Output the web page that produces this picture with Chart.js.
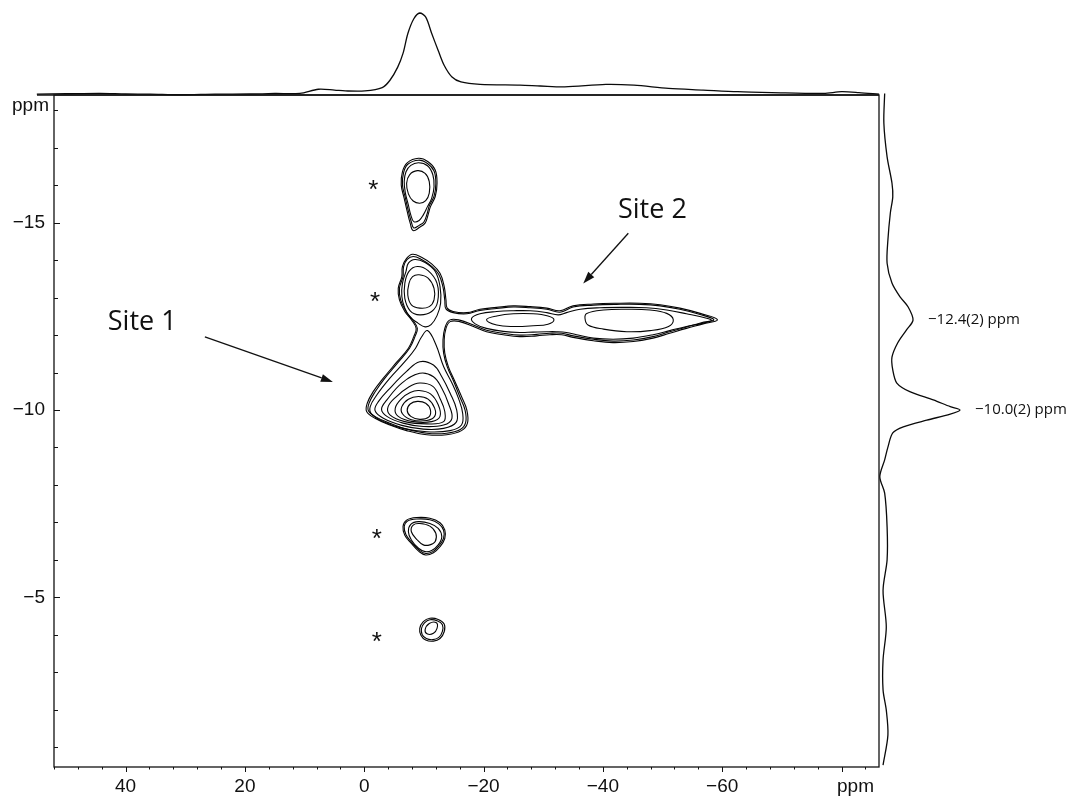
<!DOCTYPE html>
<html>
<head>
<meta charset="utf-8">
<script src="https://cdn.jsdelivr.net/npm/chart.js@4.4.1/dist/chart.umd.min.js"></script>
<style>
  html, body { margin: 0; padding: 0; background: #fff; }
  #wrap { position: relative; width: 1073px; height: 797px; }
  #wrap canvas { position: absolute; left: 0; top: 0; }
</style>
</head>
<body>
<div id="wrap">
  <canvas id="topProj" width="1073" height="797"></canvas>
  <canvas id="rightProj" width="1073" height="797"></canvas>
  <canvas id="main" width="1073" height="797"></canvas>
</div>
<script>
// ---------- axis ranges (ppm) ----------
const f2Left = 52.0, f2Right = -86.28;     // direct dimension, plotted high -> low
const f1Top = -18.41, f1Bottom = -0.47;    // indirect dimension, plotted low -> high
const topProjLeft = 54.87;                 // F2 projection starts a little left of the frame

// ---------- F2 projection (top trace) ----------
const topProjPpm = [54.9, 50, 44.3, 40, 35.9, 30.9, 25, 19.2, 15, 10.8, 7.7, 5, 3.2, -0.1, -3.0, -4.3,
  -5.6, -6.5, -7.3, -8.3, -9.3, -10.3, -11.3, -12.4, -13.4, -14.7, -16.2, -19.4, -26.1, -29.5, -33.6,
  -40.5, -45.2, -51.0, -56.8, -62.6, -68.3, -77.0, -80.0, -82.9, -86.3];
const topProjInt = [1, 1.5, 2, 1.2, 1, 0.3, 1, 1.2, 1.8, 2, 7, 6, 5, 5, 9, 18,
  34, 51, 75, 93, 100, 95, 75, 54, 36, 22, 16, 13, 12, 11, 10,
  13, 12, 8, 6, 4, 3, 2, 4, 3, 1];

// ---------- F1 projection (right trace) ----------
const rightProjPpm = [-18.45, -17.66, -16.76, -16.06, -15.69, -15.26, -14.54, -13.92, -13.39, -13.02,
  -12.75, -12.4, -12.14, -11.79, -11.41, -11.07, -10.72, -10.49, -10.27, -10.09, -10.0, -9.89, -9.73,
  -9.55, -9.39, -9.01, -8.67, -8.22, -7.78, -6.88, -6.00, -5.19, -4.21, -3.33, -2.53, -1.99, -1.32, -0.52];
const rightProjInt = [7, 6, 10, 16, 17, 14, 11, 10, 16, 26,
  36, 42, 34, 23, 16, 17, 22, 38, 67, 88, 100, 88, 59,
  30, 17, 11, 7, 1, 7, 10, 10, 5, 9, 5, 5, 9, 11, 5];
const projPeakPpm = [-12.4, -10.0];

// ---------- contour lines, each a closed list of [F2, F1] in ppm ----------
// the two lowest levels wrap Site 1, the sideband above it and the Site 2 ridge together
const envelopeContours = [
  [[-8.1,-14.16],[-9.6,-14.08],[-11.3,-13.90],[-12.7,-13.65],[-13.4,-13.30],[-13.7,-12.94],[-13.9,-12.72],
   [-14.9,-12.63],[-17.2,-12.60],[-19.4,-12.69],[-22.2,-12.74],[-25.0,-12.78],[-27.8,-12.76],[-30.6,-12.72],
   [-32.8,-12.65],[-35.0,-12.78],[-38.4,-12.83],[-42.3,-12.85],[-46.2,-12.85],[-49.6,-12.81],[-52.9,-12.72],
   [-56.3,-12.58],[-59.2,-12.41],[-56.8,-12.30],[-54.0,-12.18],[-51.2,-12.05],[-48.4,-11.92],[-45.1,-11.83],
   [-41.7,-11.80],[-38.4,-11.85],[-35.0,-11.94],[-33.1,-12.01],[-31.1,-12.01],[-28.9,-11.98],[-26.1,-11.96],
   [-23.3,-12.01],[-20.5,-12.09],[-18.3,-12.23],[-16.0,-12.36],[-14.4,-12.36],[-13.7,-12.18],[-13.4,-11.87],
   [-13.5,-11.52],[-14.1,-11.16],[-15.2,-10.76],[-16.3,-10.36],[-17.2,-10.00],[-17.3,-9.65],[-16.3,-9.45],
   [-13.8,-9.34],[-10.5,-9.34],[-7.1,-9.45],[-4.3,-9.60],[-1.8,-9.78],[-0.4,-9.96],[-0.5,-10.18],[-1.5,-10.49],
   [-3.2,-10.85],[-5.4,-11.27],[-7.4,-11.65],[-8.3,-11.96],[-8.7,-12.18],[-7.9,-12.41],[-6.8,-12.63],
   [-5.9,-12.94],[-5.7,-13.25],[-6.3,-13.56],[-6.4,-13.83],[-7.1,-14.05]],
  [[-8.2,-14.10],[-9.6,-14.02],[-11.2,-13.85],[-12.5,-13.62],[-13.2,-13.28],[-13.5,-12.93],[-13.7,-12.70],
   [-14.9,-12.60],[-17.2,-12.57],[-19.4,-12.66],[-22.2,-12.71],[-25.0,-12.75],[-27.8,-12.73],[-30.6,-12.69],
   [-32.8,-12.61],[-35.0,-12.75],[-38.4,-12.80],[-42.3,-12.82],[-46.2,-12.82],[-49.6,-12.78],[-52.9,-12.69],
   [-56.3,-12.55],[-58.6,-12.41],[-56.5,-12.33],[-53.9,-12.21],[-51.2,-12.09],[-48.4,-11.96],[-45.1,-11.87],
   [-41.7,-11.84],[-38.4,-11.89],[-35.0,-11.98],[-33.1,-12.05],[-31.1,-12.05],[-28.9,-12.02],[-26.1,-12.00],
   [-23.3,-12.05],[-20.5,-12.13],[-18.3,-12.27],[-16.0,-12.40],[-14.3,-12.40],[-13.5,-12.18],[-13.2,-11.87],
   [-13.3,-11.52],[-13.9,-11.16],[-15.0,-10.76],[-16.0,-10.36],[-16.9,-10.00],[-17.0,-9.67],[-16.1,-9.48],
   [-13.8,-9.38],[-10.5,-9.38],[-7.1,-9.49],[-4.4,-9.64],[-2.0,-9.81],[-0.7,-9.98],[-0.8,-10.18],[-1.8,-10.48],
   [-3.4,-10.84],[-5.6,-11.26],[-7.6,-11.65],[-8.5,-11.96],[-8.9,-12.18],[-8.1,-12.41],[-7.0,-12.63],
   [-6.1,-12.94],[-5.9,-13.25],[-6.5,-13.56],[-6.6,-13.83],[-7.2,-14.02]]
];

// Site 1 (centre near F1 = -10.0 ppm)
const site1Contours = [
  [[-10.6,-12.12],[-12.0,-11.75],[-13.3,-11.16],[-14.7,-10.72],[-15.8,-10.31],[-16.5,-9.91],[-16.3,-9.60],
   [-14.4,-9.45],[-10.5,-9.42],[-6.5,-9.51],[-3.2,-9.69],[-1.2,-9.90],[-1.0,-10.09],[-2.1,-10.40],[-4.3,-10.85],
   [-6.8,-11.29],[-8.6,-11.65],[-9.6,-11.95]],
  [[-9.3,-11.29],[-11.6,-11.20],[-13.0,-10.89],[-14.4,-10.45],[-15.5,-10.00],[-15.4,-9.67],[-13.3,-9.51],
   [-9.9,-9.49],[-6.3,-9.59],[-3.2,-9.78],[-1.8,-9.99],[-2.4,-10.23],[-4.3,-10.58],[-7.1,-11.03]],
  [[-9.3,-10.98],[-11.6,-10.89],[-13.0,-10.58],[-14.1,-10.18],[-14.7,-9.78],[-13.3,-9.60],[-9.9,-9.56],
   [-6.5,-9.65],[-3.8,-9.83],[-2.9,-10.02],[-3.8,-10.27],[-6.3,-10.72]],
  [[-9.3,-10.72],[-11.5,-10.63],[-12.7,-10.31],[-13.5,-9.96],[-13.3,-9.69],[-10.5,-9.63],[-6.8,-9.69],
   [-4.3,-9.87],[-4.0,-10.09],[-5.4,-10.36],[-7.4,-10.61]],
  [[-9.2,-10.52],[-11.1,-10.43],[-12.4,-10.14],[-12.7,-9.83],[-11.3,-9.69],[-8.2,-9.69],[-5.7,-9.83],
   [-5.2,-10.05],[-6.3,-10.31],[-7.7,-10.47]],
  [[-9.1,-10.36],[-10.7,-10.29],[-11.8,-10.05],[-11.8,-9.83],[-10.5,-9.72],[-7.9,-9.74],[-6.4,-9.90],
   [-6.3,-10.09],[-7.4,-10.29]],
  [[-8.9,-10.23],[-10.3,-10.18],[-11.1,-10.00],[-10.8,-9.81],[-9.3,-9.75],[-7.8,-9.83],[-7.2,-9.99],[-7.7,-10.16]]
];

// Site 2 ridge (F1 = -12.4 ppm)
const site2Contours = [
  [[-18.0,-12.45],[-19.4,-12.57],[-22.2,-12.63],[-25.0,-12.65],[-27.8,-12.65],[-30.6,-12.60],[-32.5,-12.54],
   [-33.9,-12.60],[-36.2,-12.69],[-39.5,-12.73],[-43.4,-12.74],[-47.3,-12.73],[-50.7,-12.67],[-54.0,-12.57],
   [-57.4,-12.45],[-58.2,-12.39],[-56.8,-12.32],[-54.0,-12.23],[-51.2,-12.12],[-48.4,-12.01],[-45.1,-11.92],
   [-41.7,-11.89],[-38.4,-11.92],[-35.6,-12.01],[-33.9,-12.07],[-32.2,-12.09],[-30.6,-12.09],[-28.3,-12.08],
   [-26.1,-12.07],[-23.3,-12.10],[-20.5,-12.18],[-18.6,-12.30]],
  [[-20.5,-12.41],[-22.2,-12.51],[-25.0,-12.57],[-28.3,-12.57],[-30.8,-12.51],[-31.8,-12.41],[-30.8,-12.29],
   [-28.3,-12.25],[-25.0,-12.23],[-22.2,-12.27]],
  [[-37.3,-12.58],[-40.1,-12.67],[-44.0,-12.69],[-47.9,-12.67],[-50.7,-12.58],[-51.8,-12.41],[-51.0,-12.23],
   [-47.9,-12.12],[-44.0,-12.09],[-40.1,-12.16],[-37.5,-12.27],[-37.0,-12.45]]
];

// spinning sidebands
const sidebandContours = [
  // F1 ~ -16.0
  [[-9.1,-16.72],[-10.7,-16.63],[-11.9,-16.41],[-12.2,-16.05],[-11.9,-15.70],[-11.1,-15.43],[-10.7,-15.21],
   [-10.2,-14.99],[-9.3,-14.88],[-8.2,-14.79],[-7.7,-14.99],[-7.2,-15.30],[-6.7,-15.65],[-6.2,-16.01],
   [-6.4,-16.36],[-7.2,-16.60]],
  [[-9.1,-16.67],[-10.6,-16.58],[-11.7,-16.38],[-12.0,-16.04],[-11.7,-15.71],[-10.9,-15.45],[-10.5,-15.22],
   [-10.0,-15.02],[-9.2,-14.93],[-8.3,-14.86],[-7.9,-15.02],[-7.4,-15.31],[-6.9,-15.66],[-6.4,-16.01],
   [-6.6,-16.34],[-7.3,-16.56]],
  [[-9.1,-16.60],[-10.6,-16.52],[-11.5,-16.28],[-11.7,-15.96],[-11.3,-15.65],[-10.6,-15.43],[-9.9,-15.21],
   [-9.2,-15.06],[-8.3,-15.03],[-7.8,-15.21],[-7.4,-15.47],[-6.9,-15.79],[-6.7,-16.10],[-7.0,-16.36],[-7.8,-16.53]],
  [[-8.9,-16.39],[-10.2,-16.32],[-10.9,-16.10],[-10.9,-15.79],[-10.3,-15.59],[-9.3,-15.52],[-8.2,-15.58],
   [-7.4,-15.77],[-7.1,-16.05],[-7.6,-16.28]],
  // F1 ~ -13.1 (inside the envelope)
  [[-8.5,-14.02],[-10.2,-13.94],[-11.9,-13.70],[-12.7,-13.30],[-12.8,-12.85],[-12.2,-12.52],[-11.2,-12.28],
   [-10.2,-12.22],[-9.0,-12.32],[-7.7,-12.48],[-6.8,-12.72],[-6.3,-13.03],[-6.4,-13.38],[-7.0,-13.70],[-7.4,-13.92]],
  [[-8.9,-13.83],[-10.7,-13.72],[-12.2,-13.38],[-12.3,-12.89],[-11.3,-12.63],[-9.3,-12.54],[-7.7,-12.65],
   [-6.8,-12.98],[-6.8,-13.38],[-7.5,-13.70]],
  [[-9.2,-13.61],[-10.7,-13.52],[-11.7,-13.25],[-11.7,-12.94],[-10.9,-12.76],[-9.3,-12.72],[-7.9,-12.81],
   [-7.3,-13.07],[-7.5,-13.38],[-8.1,-13.56]],
  // F1 ~ -6.7
  [[-8.8,-7.13],[-11.0,-7.11],[-12.7,-6.99],[-13.5,-6.80],[-13.5,-6.57],[-12.7,-6.35],[-11.6,-6.19],
   [-10.3,-6.13],[-9.2,-6.22],[-7.9,-6.44],[-6.8,-6.66],[-6.5,-6.89],[-7.1,-7.06]],
  [[-8.8,-7.09],[-11.0,-7.07],[-12.5,-6.96],[-13.3,-6.79],[-13.3,-6.58],[-12.5,-6.37],[-11.5,-6.22],
   [-10.3,-6.17],[-9.3,-6.25],[-8.0,-6.46],[-7.0,-6.67],[-6.7,-6.89],[-7.2,-7.03]],
  [[-9.1,-7.02],[-11.0,-6.97],[-12.4,-6.84],[-13.0,-6.62],[-12.4,-6.40],[-11.3,-6.25],[-10.2,-6.22],
   [-9.1,-6.31],[-7.9,-6.53],[-7.4,-6.75],[-7.8,-6.95]],
  [[-9.3,-6.97],[-11.0,-6.90],[-12.0,-6.71],[-11.9,-6.49],[-11.0,-6.40],[-9.9,-6.40],[-8.9,-6.53],
   [-7.9,-6.75],[-8.2,-6.93]],
  // F1 ~ -4.1
  [[-11.0,-4.44],[-12.4,-4.41],[-13.4,-4.29],[-13.4,-4.08],[-12.7,-3.90],[-11.6,-3.83],[-10.3,-3.86],
   [-9.5,-3.99],[-9.3,-4.17],[-9.9,-4.35]],
  [[-11.0,-4.40],[-12.3,-4.37],[-13.1,-4.27],[-13.1,-4.09],[-12.5,-3.93],[-11.5,-3.87],[-10.4,-3.90],
   [-9.7,-4.01],[-9.6,-4.17],[-10.1,-4.32]],
  [[-10.9,-4.30],[-12.1,-4.32],[-12.2,-4.17],[-11.6,-4.04],[-10.6,-4.02],[-10.2,-4.13]]
];

// ---------- annotations ----------
const sidebandMarkF2 = [-1.5, -1.8, -2.1, -2.1];
const sidebandMarkF1 = [-16.05, -13.07, -6.75, -3.99];
const siteNames = ['Site 1', 'Site 2'];
const siteLabelF2 = [42.98, -42.53];
const siteLabelF1 = [-12.14, -15.12];
const arrowTail = [[26.71, -11.95], [-44.26, -14.72]];
const arrowHead = [[5.25, -10.75], [-36.71, -13.38]];

// ---------- helpers ----------
const MINUS = '\u2212';
const fmtNum = v => (v < 0 ? MINUS + Math.abs(v) : String(v));
const toXY = pts => pts.map(([x, y]) => ({ x, y }));
const LABEL_FONT = "'Liberation Sans', Arial, Helvetica, sans-serif";
const NOTE_FONT = "'Open Sans', 'Noto Sans', sans-serif";

// close contour lines into smooth loops
const closeLoops = {
  id: 'closeLoops',
  afterDatasetUpdate(chart, args) {
    const ds = chart.data.datasets[args.index];
    const line = args.meta.dataset;
    if (ds.closed && line) { line._loop = true; line._fullLoop = true; }
  }
};

const contourDs = pts => ({
  data: toXY(pts), closed: true, borderColor: '#050505', borderWidth: 1.1,
  pointRadius: 0, tension: 0.4, fill: false, clip: false
});

// frame, tick marks and annotations of the contour panel
const panelDecor = {
  id: 'panelDecor',
  afterDraw(chart) {
    const { ctx, chartArea: a, scales: { x, y } } = chart;
    ctx.save();
    ctx.strokeStyle = '#111';
    ctx.lineWidth = 1.3;
    ctx.strokeRect(a.left, a.top, a.right - a.left, a.bottom - a.top);
    ctx.lineWidth = 1;
    ctx.beginPath();
    x.ticks.forEach(t => {
      const px = Math.round(x.getPixelForValue(t.value)) + 0.5;
      const len = t.value % 20 === 0 ? 5 : 2.5;
      ctx.moveTo(px, a.bottom); ctx.lineTo(px, a.bottom + len);
    });
    y.ticks.forEach(t => {
      const py = Math.round(y.getPixelForValue(t.value)) + 0.5;
      const len = t.value % 5 === 0 ? 6 : 4;
      ctx.moveTo(a.left, py); ctx.lineTo(a.left + len, py);
    });
    ctx.stroke();

    // unit labels
    ctx.fillStyle = '#111';
    ctx.font = '19px ' + LABEL_FONT;
    ctx.textAlign = 'right';
    ctx.textBaseline = 'alphabetic';
    ctx.fillText('ppm', a.left - 5, y.getPixelForValue(-18) + 0.5);
    ctx.textBaseline = 'middle';
    ctx.fillText('ppm', a.right - 5, a.bottom + 8 + 11.4);

    // sideband markers
    ctx.textAlign = 'center';
    ctx.textBaseline = 'alphabetic';
    ctx.font = '26px ' + LABEL_FONT;
    sidebandMarkF2.forEach((f2, i) => {
      ctx.fillText('*', x.getPixelForValue(f2), y.getPixelForValue(sidebandMarkF1[i]) + 15);
    });

    // site labels and arrows
    ctx.font = '27px ' + NOTE_FONT;
    ctx.textAlign = 'left';
    siteNames.forEach((name, i) => {
      ctx.fillText(name, x.getPixelForValue(siteLabelF2[i]), y.getPixelForValue(siteLabelF1[i]));
    });
    arrowTail.forEach((tail, i) => {
      const x0 = x.getPixelForValue(tail[0]), y0 = y.getPixelForValue(tail[1]);
      const x1 = x.getPixelForValue(arrowHead[i][0]), y1 = y.getPixelForValue(arrowHead[i][1]);
      const ang = Math.atan2(y1 - y0, x1 - x0);
      const hl = 12, hw = 4;
      const bx = x1 - hl * Math.cos(ang), by = y1 - hl * Math.sin(ang);
      ctx.lineWidth = 1.3;
      ctx.beginPath(); ctx.moveTo(x0, y0); ctx.lineTo(bx, by); ctx.stroke();
      ctx.beginPath();
      ctx.moveTo(x1, y1);
      ctx.lineTo(bx + hw * Math.sin(ang), by - hw * Math.cos(ang));
      ctx.lineTo(bx - hw * Math.sin(ang), by + hw * Math.cos(ang));
      ctx.closePath(); ctx.fill();
    });
    ctx.restore();
  }
};

// ---------- contour panel ----------
const allContours = [...envelopeContours, ...site1Contours, ...site2Contours, ...sidebandContours];
new Chart(document.getElementById('main'), {
  type: 'line',
  data: { datasets: allContours.map(contourDs) },
  options: {
    responsive: false, animation: false, events: [],
    layout: { padding: { top: 95, right: 194, left: 0, bottom: 0 } },
    plugins: { legend: { display: false }, tooltip: { enabled: false } },
    scales: {
      x: {
        type: 'linear', reverse: true, min: f2Right, max: f2Left, position: 'bottom',
        afterFit: s => { s.height = 30; },
        grid: { display: false, drawTicks: false }, border: { display: false },
        ticks: {
          stepSize: 4, autoSkip: false, maxRotation: 0, minRotation: 0, includeBounds: false,
          padding: 8, color: '#111', font: { family: LABEL_FONT, size: 19 },
          callback: v => (v % 20 === 0 && v !== -80 ? fmtNum(v) : '')
        }
      },
      y: {
        type: 'linear', reverse: true, min: f1Top, max: f1Bottom, position: 'left',
        afterFit: s => { s.width = 54; },
        grid: { display: false, drawTicks: false }, border: { display: false },
        ticks: {
          stepSize: 1, autoSkip: false, includeBounds: false,
          padding: 9, color: '#111', font: { family: LABEL_FONT, size: 19 },
          callback: v => (v % 5 === 0 ? fmtNum(v) : '')
        }
      }
    }
  },
  plugins: [closeLoops, panelDecor]
});

// ---------- F2 projection ----------
const topBaseline = {
  id: 'topBaseline',
  afterDraw(chart) {
    const { ctx, chartArea: a, scales: { y } } = chart;
    const py = y.getPixelForValue(0);
    ctx.save();
    ctx.strokeStyle = '#111'; ctx.lineWidth = 1.3;
    ctx.beginPath(); ctx.moveTo(a.left, py); ctx.lineTo(a.right, py); ctx.stroke();
    ctx.restore();
  }
};
new Chart(document.getElementById('topProj'), {
  type: 'line',
  data: { datasets: [{
    data: topProjPpm.map((p, i) => ({ x: p, y: topProjInt[i] })),
    borderColor: '#0a0a0a', borderWidth: 1.3, pointRadius: 0, tension: 0.3, fill: false, clip: false
  }] },
  options: {
    responsive: false, animation: false, events: [],
    layout: { padding: { left: 37, right: 194, top: 13, bottom: 702 } },
    plugins: { legend: { display: false }, tooltip: { enabled: false } },
    scales: {
      x: { type: 'linear', display: false, reverse: true, min: f2Right, max: topProjLeft },
      y: { type: 'linear', display: false, min: 0, max: 100 }
    }
  },
  plugins: [topBaseline]
});

// ---------- F1 projection ----------
const peakLabels = {
  id: 'peakLabels',
  afterDraw(chart) {
    const { ctx, scales: { x, y } } = chart;
    ctx.save();
    ctx.fillStyle = '#111';
    ctx.font = '15px ' + NOTE_FONT;
    ctx.textAlign = 'left';
    ctx.textBaseline = 'middle';
    projPeakPpm.forEach(p => {
      const i = rightProjPpm.indexOf(p);
      const text = MINUS + Math.abs(p).toFixed(1) + '(2) ppm';
      ctx.fillText(text, x.getPixelForValue(rightProjInt[i]) + 15, y.getPixelForValue(p));
    });
    ctx.restore();
  }
};
new Chart(document.getElementById('rightProj'), {
  type: 'line',
  data: { datasets: [{
    data: rightProjPpm.map((p, i) => ({ x: rightProjInt[i], y: p })),
    borderColor: '#0a0a0a', borderWidth: 1.3, pointRadius: 0, tension: 0.3, fill: false, clip: false
  }] },
  options: {
    responsive: false, animation: false, events: [],
    layout: { padding: { left: 879, right: 113, top: 95, bottom: 30 } },
    plugins: { legend: { display: false }, tooltip: { enabled: false } },
    scales: {
      x: { type: 'linear', display: false, min: 0, max: 100 },
      y: { type: 'linear', display: false, reverse: true, min: f1Top, max: f1Bottom }
    }
  },
  plugins: [peakLabels]
});
</script>
</body>
</html>
